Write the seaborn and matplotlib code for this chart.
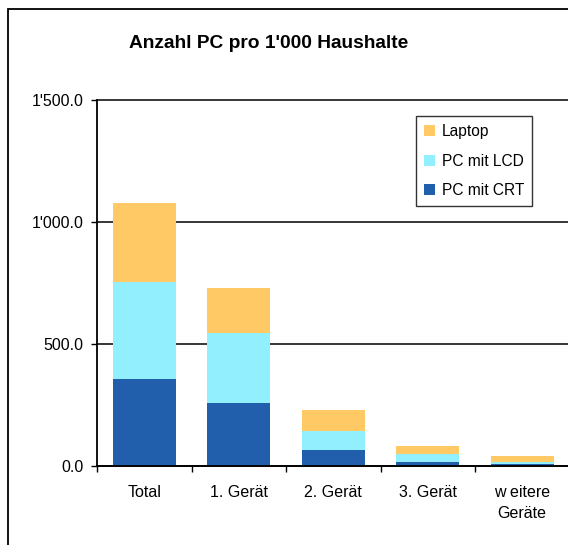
import matplotlib
matplotlib.use("Agg")
import matplotlib.pyplot as plt
from matplotlib.patches import Patch, Rectangle
from matplotlib.ticker import FuncFormatter
import numpy as np
import pandas as pd
import seaborn as sns

# Data
categories = ["Total", "1. Gerät", "2. Gerät", "3. Gerät", "w eitere\nGeräte"]
pc_crt = [357, 259, 64, 18, 8]
pc_lcd = [398, 286, 81, 30, 10]
laptop = [323, 184, 86, 32, 21]

series_names = ["Laptop", "PC mit LCD", "PC mit CRT"]
colors = {"Laptop": "#FFCA66", "PC mit LCD": "#92F0FE", "PC mit CRT": "#215EAC"}

df = pd.DataFrame({"Kategorie": categories, "PC mit CRT": pc_crt,
                   "PC mit LCD": pc_lcd, "Laptop": laptop})
df["lcd_top"] = df["PC mit CRT"] + df["PC mit LCD"]
df["laptop_top"] = df["lcd_top"] + df["Laptop"]

sns.set_style("white")
plt.rcParams["font.family"] = ["Liberation Sans", "DejaVu Sans"]
plt.rcParams["text.color"] = "black"

fig = plt.figure(figsize=(5.68, 5.45), dpi=100)
ax = fig.add_axes([97 / 568, 79 / 545, 472.5 / 568, 366 / 545])

# Stacked bars: draw the cumulative tops first, then the lower segments
bar_w = 0.67
sns.barplot(data=df, x="Kategorie", y="laptop_top", color=colors["Laptop"],
            saturation=1, width=bar_w, ax=ax)
sns.barplot(data=df, x="Kategorie", y="lcd_top", color=colors["PC mit LCD"],
            saturation=1, width=bar_w, ax=ax)
sns.barplot(data=df, x="Kategorie", y="PC mit CRT", color=colors["PC mit CRT"],
            saturation=1, width=bar_w, ax=ax)
for p in ax.patches:
    p.set_linewidth(0)

ax.set_xlim(-0.5, 4.5)
ax.set_ylim(0, 1500)
ax.set_xlabel("")
ax.set_ylabel("")

# y axis
ax.set_yticks([0, 500, 1000, 1500])
ax.yaxis.set_major_formatter(FuncFormatter(lambda v, pos: f"{v:,.1f}".replace(",", "'")))
ax.tick_params(axis="y", length=4.3, width=1, pad=5.5, labelsize=11.5, colors="black",
               left=True, direction="out")
ax.grid(axis="y", color="black", linewidth=1.1)
ax.set_axisbelow(True)

# x axis: tick marks between categories, labels centered on bars
ax.set_xticks(np.arange(-0.5, 5, 1))
ax.set_xticklabels([""] * 6)
ax.set_xticks(range(5), minor=True)
ax.set_xticklabels(categories, minor=True, linespacing=1.55)
ax.tick_params(axis="x", which="major", length=4.3, width=1, bottom=True,
               direction="out", colors="black")
ax.tick_params(axis="x", which="minor", length=0, pad=13.5, labelsize=11.5, colors="black")

for side in ["top", "right"]:
    ax.spines[side].set_visible(False)
for side in ["left", "bottom"]:
    ax.spines[side].set_color("black")
    ax.spines[side].set_linewidth(1.3)
    ax.spines[side].set_clip_on(False)

fig.canvas.draw()
for gl in ax.yaxis.get_gridlines():
    gl.set_clip_on(False)

# Legend
handles = [Patch(facecolor=colors[n], edgecolor="none", label=n) for n in series_names]
leg = fig.legend(handles=handles, loc="upper left",
                 bbox_to_anchor=(416 / 568, 1 - 116 / 545),
                 fontsize=11.2, frameon=True, fancybox=False, labelcolor="black",
                 edgecolor="black", handlelength=0.7, handleheight=0.7,
                 handletextpad=0.45, labelspacing=0.95, borderpad=0.5,
                 borderaxespad=0)
leg.get_frame().set_linewidth(1.0)

# Title
fig.text(268.5 / 568, 1 - 43 / 545, "Anzahl PC pro 1'000 Haushalte",
         ha="center", va="center", fontsize=13.8, fontweight="bold", color="black")

# Chart area border (left and top visible)
fig.patches.append(Rectangle((8 / 568, -0.1), 1.2, 1.1 - 9 / 545,
                             transform=fig.transFigure, fill=False,
                             edgecolor="black", linewidth=1.3))

fig.savefig("out.png", dpi=100)
